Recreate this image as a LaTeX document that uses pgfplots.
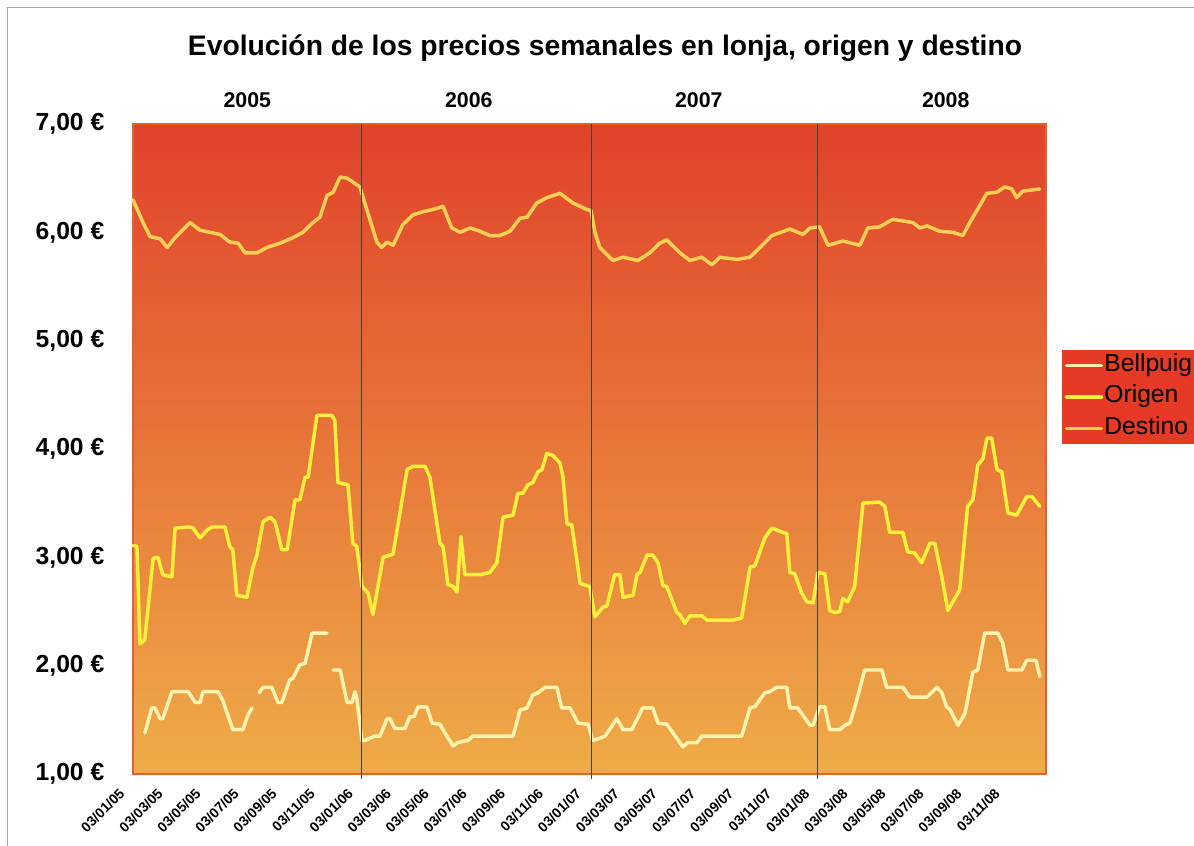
\documentclass[border=0pt]{standalone}
\usepackage{pgfplots}
\pgfplotsset{compat=1.18}
\usepackage{fontspec}
\setmainfont{Liberation Sans}
\definecolor{bgtop}{RGB}{224,66,43}
\definecolor{bgbot}{RGB}{238,172,72}
\definecolor{cBell}{RGB}{255,243,175}
\definecolor{cOrig}{RGB}{255,240,60}
\definecolor{cDest}{RGB}{252,208,85}
\definecolor{legred}{RGB}{228,58,38}
\definecolor{frameline}{RGB}{230,95,45}
\definecolor{yearline}{RGB}{75,62,52}
\begin{document}
\begin{tikzpicture}[x=0.75pt,y=0.75pt]
\useasboundingbox (0,0) rectangle (1194,845);
\draw[gray!70,line width=0.75pt] (7.5,-20) -- (7.5,837.5) -- (1220,837.5);
\node[font=\bfseries\fontsize{21.2}{24}\selectfont] at (605,797) {Evolución de los precios semanales en lonja, origen y destino};
\begin{axis}[
  at={(99.75pt,53.25pt)}, anchor=south west,
  scale only axis, width=684.75pt, height=487.5pt,
  xmin=0, xmax=208.5, ymin=1, ymax=7,
  clip=false,
  axis background/.style={top color=bgtop, bottom color=bgbot},
  axis line style={draw=frameline, line width=0.9pt},
  major tick length=0pt,
  ytick={1,2,3,4,5,6,7},
  yticklabels={{1,00 €},{2,00 €},{3,00 €},{4,00 €},{5,00 €},{6,00 €},{7,00 €}},
  yticklabel style={font=\bfseries\fontsize{18.5}{20}\selectfont, xshift=-18pt},
  xtick={0,8.69,17.38,26.07,34.76,43.45,52.14,60.83,69.52,78.21,86.9,95.59,104.28,112.97,121.66,130.35,139.04,147.73,156.42,165.11,173.8,182.49,191.18,199.87},
  xticklabels={03/01/05,03/03/05,03/05/05,03/07/05,03/09/05,03/11/05,03/01/06,03/03/06,03/05/06,03/07/06,03/09/06,03/11/06,03/01/07,03/03/07,03/05/07,03/07/07,03/09/07,03/11/07,03/01/08,03/03/08,03/05/08,03/07/08,03/09/08,03/11/08},
  xticklabel style={font=\bfseries\fontsize{10.5}{12}\selectfont, xshift=-11pt, yshift=-5pt, rotate=45, anchor=north east},
  unbounded coords=jump,
  every axis plot/.append style={line width=2.6pt, line join=round, line cap=round},
  legend style={at={(axis description cs:1.0175,0.58)}, anchor=west,
    fill=legred, draw=legred, font=\fontsize{18.5}{20}\selectfont,
    inner sep=2pt, row sep=4.5pt,
    nodes={inner sep=1pt, text height=13pt, text depth=4pt}},
  legend cell align=left,
  legend image code/.code={\path (0pt,0pt) -- (26pt,0pt); \draw[#1, line width=2.4pt, line cap=round] (1pt,0pt) -- (21pt,0pt);},
]
% Bellpuig (lonja)
\addplot[cBell] coordinates {
(2.7,1.38)(4.3,1.61)(5.0,1.61)(6.2,1.51)(6.8,1.51)(8.9,1.76)(12.6,1.76)(14.2,1.66)(15.3,1.66)(16.0,1.76)(19.4,1.76)(20.5,1.68)(22.8,1.41)(25.1,1.41)(26.3,1.55)(27.2,1.61)
(27.9,nan)
(28.8,1.75)(29.7,1.80)(31.7,1.80)(33.1,1.66)(34.0,1.66)(35.8,1.87)(36.5,1.88)(38.1,2.01)(39.3,2.02)(40.9,2.30)(44.3,2.30)
(45.0,nan)
(45.7,1.96)(47.3,1.96)(48.9,1.66)(50.0,1.66)(50.7,1.76)(51.1,1.70)(52.3,1.31)(53.0,1.31)(54.1,1.33)(55.3,1.35)(56.4,1.35)(58.0,1.51)(58.7,1.51)(59.8,1.42)(62.1,1.42)(63.2,1.53)(64.2,1.53)(65.1,1.62)(67.1,1.62)(68.3,1.47)(70.1,1.46)(71.2,1.38)(73.1,1.26)(74.2,1.29)(76.5,1.31)(77.6,1.35)(86.8,1.35)(88.4,1.59)(90.0,1.61)(91.3,1.73)(92.5,1.75)(94.1,1.80)(96.8,1.80)(97.9,1.61)(99.8,1.61)(101.6,1.47)(103.9,1.46)(105.0,1.31)(106.6,1.33)(107.8,1.35)(110.5,1.51)(111.9,1.41)(113.9,1.41)(115.3,1.52)(116.4,1.61)(118.7,1.61)(119.9,1.47)(121.9,1.46)(125.6,1.25)(126.7,1.29)(128.8,1.29)(129.9,1.35)(139.0,1.35)(140.9,1.61)(142.0,1.62)(144.3,1.75)(145.4,1.76)(147.0,1.80)(149.3,1.80)(150.0,1.61)(151.8,1.61)(154.6,1.45)(155.3,1.45)(156.8,1.62)(158.0,1.62)(159.1,1.41)(161.4,1.41)(162.6,1.45)(163.7,1.47)(164.8,1.61)(167.1,1.96)(171.0,1.96)(172.1,1.80)(175.8,1.80)(177.4,1.71)(181.3,1.71)(183.6,1.80)(184.7,1.75)(185.8,1.62)(186.5,1.60)(188.4,1.45)(190.0,1.56)(191.8,1.94)(192.9,1.96)(194.5,2.30)(197.5,2.30)(198.6,2.21)(199.8,1.96)(203.0,1.96)(204.1,2.05)(206.2,2.05)(207.1,1.90)
};
\addlegendentry{Bellpuig}
% Origen
\addplot[cOrig] coordinates {
(0.0,3.11)(0.9,3.10)(1.6,2.20)(2.7,2.24)(4.6,2.99)(5.7,3.00)(6.8,2.84)(8.9,2.82)(9.6,3.27)(13.0,3.28)(13.7,3.27)(15.3,3.18)(16.9,3.25)(18.0,3.28)(21.0,3.28)(22.1,3.10)(22.8,3.07)(23.7,2.65)(26.0,2.63)(27.4,2.91)(28.3,3.02)(29.7,3.33)(31.3,3.37)(32.4,3.33)(34.0,3.07)(35.2,3.07)(37.0,3.53)(38.1,3.53)(39.3,3.74)(40.0,3.74)(42.0,4.31)(45.4,4.31)(46.1,4.26)(46.8,3.69)(49.1,3.67)(50.2,3.13)(51.1,3.10)(52.3,2.73)(53.7,2.67)(54.8,2.47)(57.1,3.00)(59.4,3.03)(62.6,3.81)(63.9,3.84)(66.7,3.84)(67.8,3.74)(70.1,3.13)(70.8,3.10)(71.9,2.75)(73.1,2.73)(74.0,2.68)(74.9,3.19)(75.8,2.84)(79.2,2.84)(81.5,2.86)(83.1,2.95)(84.5,3.37)(86.8,3.39)(87.9,3.59)(89.0,3.59)(90.2,3.67)(91.3,3.69)(92.5,3.79)(93.4,3.81)(94.5,3.96)(95.9,3.94)(97.5,3.87)(98.2,3.74)(99.1,3.31)(100.2,3.30)(102.1,2.76)(104.3,2.73)(105.5,2.45)(107.3,2.54)(108.2,2.55)(110.0,2.84)(111.2,2.84)(111.9,2.63)(114.2,2.65)(115.1,2.84)(115.8,2.86)(117.4,3.02)(118.7,3.02)(119.9,2.95)(121.0,2.74)(121.9,2.73)(124.2,2.49)(124.9,2.47)(126.0,2.39)(127.2,2.46)(129.9,2.46)(131.1,2.42)(137.0,2.42)(139.0,2.44)(140.9,2.91)(142.0,2.92)(144.3,3.18)(145.9,3.27)(148.4,3.23)(149.3,3.22)(150.0,2.86)(151.1,2.85)(152.7,2.67)(153.9,2.59)(155.3,2.58)(156.4,2.86)(158.0,2.85)(159.1,2.51)(160.3,2.49)(161.4,2.50)(162.1,2.62)(163.2,2.59)(164.8,2.73)(166.7,3.50)(170.5,3.51)(171.7,3.47)(172.8,3.23)(175.8,3.23)(176.9,3.05)(178.5,3.04)(180.1,2.95)(182.0,3.13)(183.1,3.13)(184.7,2.82)(186.1,2.51)(188.8,2.70)(190.6,3.47)(191.8,3.53)(192.9,3.85)(194.1,3.91)(195.0,4.10)(196.1,4.10)(197.3,3.81)(198.4,3.79)(199.8,3.41)(201.8,3.39)(204.1,3.56)(205.3,3.56)(207.1,3.47)
};
\addlegendentry{Origen}
% Destino
\addplot[cDest] coordinates {
(0.0,6.30)(2.3,6.09)(3.9,5.96)(6.2,5.94)(7.8,5.86)(9.6,5.95)(13.0,6.09)(15.3,6.02)(17.6,6.00)(19.9,5.98)(22.1,5.91)(24.0,5.90)(25.6,5.81)(28.3,5.81)(30.6,5.86)(33.6,5.90)(36.5,5.95)(38.8,6.00)(41.1,6.09)(42.7,6.14)(44.3,6.34)(45.7,6.37)(47.3,6.51)(48.9,6.50)(51.8,6.42)(53.4,6.21)(55.7,5.91)(56.8,5.86)(58.0,5.91)(59.4,5.88)(61.6,6.07)(63.9,6.16)(66.2,6.19)(69.4,6.22)(70.8,6.24)(72.8,6.04)(74.7,6.00)(77.0,6.04)(79.2,6.01)(81.5,5.97)(83.8,5.97)(86.1,6.01)(88.4,6.13)(90.0,6.14)(92.2,6.27)(94.5,6.32)(97.5,6.36)(100.5,6.27)(103.7,6.21)(104.6,6.20)(105.5,6.00)(106.6,5.86)(109.6,5.74)(111.9,5.77)(115.3,5.74)(118.0,5.81)(120.3,5.90)(121.9,5.93)(124.9,5.81)(127.2,5.74)(129.9,5.77)(132.2,5.70)(134.0,5.77)(137.9,5.75)(140.9,5.77)(143.2,5.86)(145.9,5.97)(150.0,6.03)(153.0,5.98)(154.6,6.04)(156.8,6.05)(158.7,5.88)(162.1,5.92)(166.0,5.88)(167.8,6.04)(170.5,6.05)(173.5,6.12)(178.1,6.09)(179.7,6.04)(181.3,6.06)(184.2,6.01)(187.2,6.00)(189.5,5.97)(191.1,6.09)(195.0,6.36)(197.3,6.37)(199.1,6.42)(200.7,6.40)(201.8,6.32)(203.2,6.38)(207.1,6.40)
};
\addlegendentry{Destino}
\draw[yearline, line width=0.75pt] (axis cs:52.2,0.95) -- (axis cs:52.2,7);
\draw[yearline, line width=0.75pt] (axis cs:104.8,0.95) -- (axis cs:104.8,7);
\draw[yearline, line width=0.75pt] (axis cs:156.3,0.95) -- (axis cs:156.3,7);
\node[font=\bfseries\fontsize{16}{18}\selectfont] at (axis cs:26.1,7.22) {2005};
\node[font=\bfseries\fontsize{16}{18}\selectfont] at (axis cs:76.7,7.22) {2006};
\node[font=\bfseries\fontsize{16}{18}\selectfont] at (axis cs:129.2,7.22) {2007};
\node[font=\bfseries\fontsize{16}{18}\selectfont] at (axis cs:185.6,7.22) {2008};
\end{axis}
\end{tikzpicture}
\end{document}
